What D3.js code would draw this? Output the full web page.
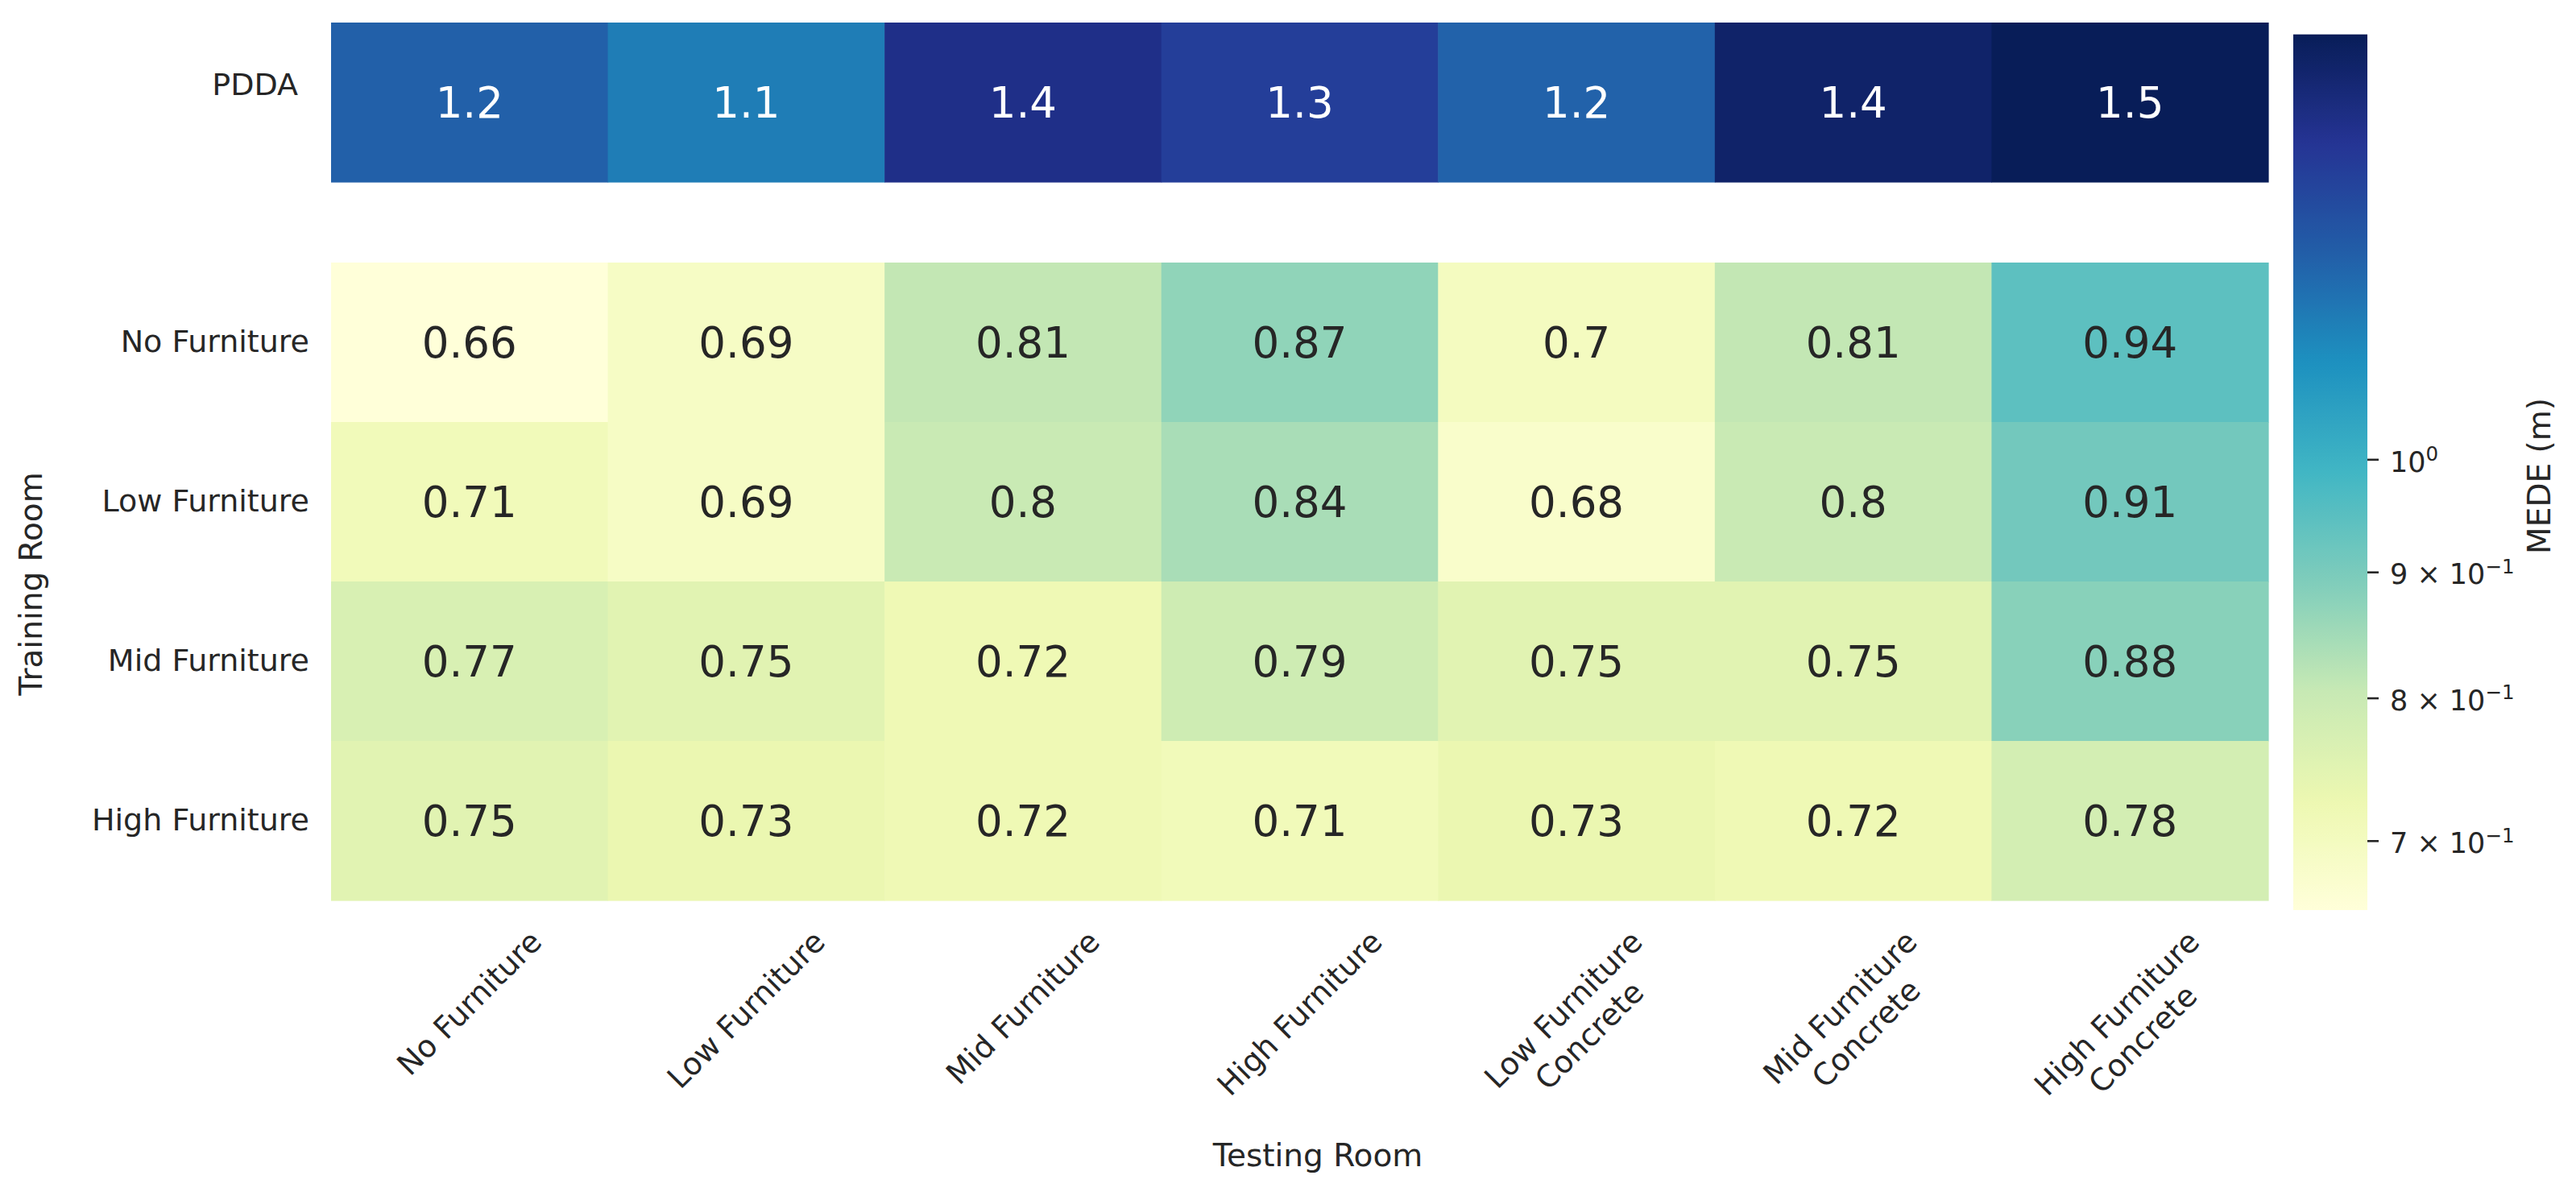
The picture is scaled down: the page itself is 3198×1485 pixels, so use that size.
<!DOCTYPE html>
<html>
<head>
<meta charset="utf-8">
<script src="https://cdn.jsdelivr.net/npm/d3@7"></script>
<style>
  html, body { margin: 0; padding: 0; background: #ffffff; }
  svg { display: block; }
  text { font-family: "DejaVu Sans", sans-serif; }
</style>
</head>
<body>
<svg id="chart" width="3198" height="1485"></svg>
<script>
// ---------------- data ----------------
const testingRooms = ["No Furniture", "Low Furniture", "Mid Furniture", "High Furniture",
  "Low Furniture\nConcrete", "Mid Furniture\nConcrete", "High Furniture\nConcrete"];
const trainingRooms = ["No Furniture", "Low Furniture", "Mid Furniture", "High Furniture"];
const pddaRow = ["PDDA"];
const pddaValues     = [1.207, 1.140, 1.371, 1.311, 1.202, 1.446, 1.488];
const noFurniture    = [0.656, 0.69, 0.81, 0.87, 0.70, 0.81, 0.944];
const lowFurniture   = [0.71, 0.69, 0.80, 0.84, 0.68, 0.80, 0.91];
const midFurniture   = [0.77, 0.75, 0.72, 0.79, 0.75, 0.75, 0.88];
const highFurniture  = [0.75, 0.73, 0.72, 0.71, 0.73, 0.72, 0.78];
const trainingValues = [noFurniture, lowFurniture, midFurniture, highFurniture];
const colorbarTicks = [0.7, 0.8, 0.9, 1.0];
const colorbarTickLabels = [["7", "−1"], ["8", "−1"], ["9", "−1"], [null, "0"]];
const ylgnbu = ["#ffffd9", "#edf8b1", "#c7e9b4", "#7fcdbb", "#41b6c4", "#1d91c0", "#225ea8", "#253494", "#081d58"];

// ---------------- setup ----------------
const svg = d3.select("#chart");
const TEXT = "#262626";
const allVals = pddaValues.concat(...trainingValues);
const vmin = d3.min(allVals), vmax = d3.max(allVals);

const norm = d3.scaleLog().domain([vmin, vmax]).range([0, 1]).clamp(true);
const cmap = d3.scaleLinear().domain(d3.range(9).map(i => i / 8)).range(ylgnbu).interpolate(d3.interpolateRgb);
const color = v => cmap(norm(v));

function luminance(c) {
  const rgb = d3.rgb(c);
  const f = x => { x = x / 255; return x <= 0.03928 ? x / 12.92 : Math.pow((x + 0.055) / 1.055, 2.4); };
  return 0.2126 * f(rgb.r) + 0.7152 * f(rgb.g) + 0.0722 * f(rgb.b);
}
const fmt = d3.format(".2~g");

const x = d3.scaleBand().domain(testingRooms).range([411, 2816]);
const yTop = d3.scaleBand().domain(pddaRow).range([28, 226]);
const yBot = d3.scaleBand().domain(trainingRooms).range([326, 1118]);

// ---------------- cells ----------------
function drawCells(rows, yScale) {
  const cells = [];
  rows.forEach(r => r.vals.forEach((v, i) => cells.push({ row: r.name, col: testingRooms[i], v })));
  const g = svg.append("g");
  g.selectAll("rect").data(cells).join("rect")
    .attr("x", d => x(d.col))
    .attr("y", d => yScale(d.row))
    .attr("width", x.bandwidth() + 0.6)
    .attr("height", yScale.bandwidth() + 0.6)
    .attr("fill", d => color(d.v));
  g.selectAll("text").data(cells).join("text")
    .attr("x", d => x(d.col) + x.bandwidth() / 2)
    .attr("y", d => yScale(d.row) + yScale.bandwidth() / 2)
    .attr("dy", "0.36em")
    .attr("text-anchor", "middle")
    .attr("font-size", 53)
    .attr("fill", d => luminance(color(d.v)) > 0.408 ? TEXT : "#ffffff")
    .text(d => fmt(d.v));
}
drawCells([{ name: "PDDA", vals: pddaValues }], yTop);
drawCells(trainingRooms.map((n, i) => ({ name: n, vals: trainingValues[i] })), yBot);

// ---------------- y axes ----------------
const yAxisBot = svg.append("g").attr("transform", "translate(411,0)")
  .call(d3.axisLeft(yBot).tickSize(0).tickPadding(27));
yAxisBot.select(".domain").remove();
yAxisBot.selectAll("text").attr("font-size", 38).attr("fill", TEXT).attr("font-family", "DejaVu Sans");

const yAxisTop = svg.append("g").attr("transform", "translate(411,0)")
  .call(d3.axisLeft(yTop).tickSize(0).tickPadding(41));
yAxisTop.select(".domain").remove();
yAxisTop.selectAll("text").attr("font-size", 38).attr("fill", TEXT).attr("font-family", "DejaVu Sans")
  .attr("y", -21);

// ---------------- x tick labels (rotated 45) ----------------
const xLab = svg.append("g");
testingRooms.forEach(label => {
  const lines = label.split("\n");
  const g = xLab.append("g");
  const t = g.append("text")
    .attr("transform", "rotate(-45)")
    .attr("text-anchor", "middle")
    .attr("font-size", 38)
    .attr("fill", TEXT);
  lines.forEach((ln, i) => {
    t.append("tspan").attr("x", 0).attr("dy", i === 0 ? `${-(lines.length - 1) * 0.6}em` : "1.2em").text(ln);
  });
  const r = g.node().getBoundingClientRect();
  const cx = x(label) + x.bandwidth() / 2;
  const dx = cx - (r.left + r.width / 2);
  const dy = 1147 - r.top;
  g.attr("transform", `translate(${dx},${dy})`);
});

// ---------------- axis titles ----------------
svg.append("text")
  .attr("x", 1636).attr("y", 1448)
  .attr("text-anchor", "middle").attr("font-size", 39).attr("fill", TEXT)
  .text("Testing Room");
svg.append("text")
  .attr("transform", "translate(52,725) rotate(-90)")
  .attr("text-anchor", "middle").attr("font-size", 39).attr("fill", TEXT)
  .text("Training Room");

// ---------------- colorbar ----------------
const cbX0 = 2847, cbW = 92, cbTop = 42.7, cbBot = 1130;
const cbY = d3.scaleLog().domain([vmin, vmax]).range([cbBot, cbTop]);
const defs = svg.append("defs");
const grad = defs.append("linearGradient").attr("id", "cbgrad")
  .attr("x1", 0).attr("y1", 1).attr("x2", 0).attr("y2", 0);
d3.range(0, 101).forEach(i => {
  grad.append("stop").attr("offset", `${i}%`).attr("stop-color", cmap(i / 100));
});
svg.append("rect")
  .attr("x", cbX0).attr("y", cbY(vmax))
  .attr("width", cbW).attr("height", cbY(vmin) - cbY(vmax))
  .attr("fill", "url(#cbgrad)");

const cbAxis = svg.append("g").attr("transform", `translate(${cbX0 + cbW},0)`)
  .call(d3.axisRight(cbY).tickValues(colorbarTicks).tickSize(14).tickPadding(14).tickFormat(() => ""));
cbAxis.select(".domain").remove();
cbAxis.selectAll(".tick line").attr("stroke", TEXT).attr("stroke-width", 2.6);
cbAxis.selectAll(".tick text").each(function (d, i) {
  const t = d3.select(this);
  const [mant, exp] = colorbarTickLabels[i];
  t.attr("font-size", 35).attr("fill", TEXT).attr("font-family", "DejaVu Sans").attr("dy", "0.42em");
  t.text(null);
  t.append("tspan").text(mant ? `${mant} × 10` : "10");
  t.append("tspan").attr("dy", "-0.55em").attr("font-size", 24.5).text(exp);
});

svg.append("text")
  .attr("transform", "translate(3166,591) rotate(-90)")
  .attr("text-anchor", "middle").attr("font-size", 39).attr("fill", TEXT)
  .text("MEDE (m)");
</script>
</body>
</html>
